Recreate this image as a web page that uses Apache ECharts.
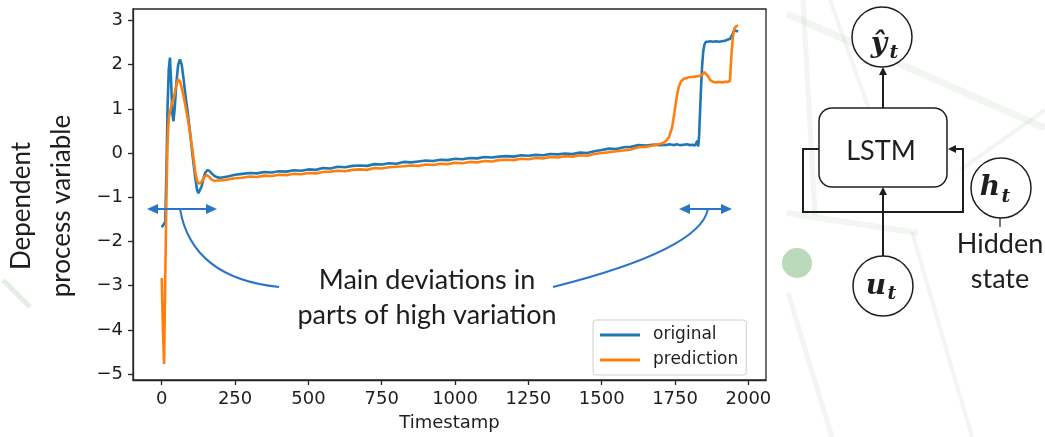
<!DOCTYPE html>
<html>
<head>
<meta charset="utf-8">
<title>LSTM prediction</title>
<script src="https://cdn.jsdelivr.net/npm/echarts@6/dist/echarts.min.js"></script>
<style>
html, body { margin: 0; padding: 0; background: #fff; }
#chart { width: 1045px; height: 437px; }
</style>
</head>
<body>
<div id="chart"></div>
<script>
// timestamps shared by both curves
var timestamps = [
  0, 4, 8, 12, 16, 20, 24, 28, 32, 36, 40, 44, 50, 56, 62, 68, 74, 80, 88, 96,
  105, 114, 120, 125, 130, 136, 142, 148, 155, 162, 170, 180, 190, 200,
  225, 250, 275, 300, 325, 350, 375, 400, 425, 450, 475, 500, 525, 550, 575, 600,
  625, 650, 675, 700, 725, 750, 775, 800, 825, 850, 875, 900, 925, 950, 975, 1000,
  1025, 1050, 1075, 1100, 1125, 1150, 1175, 1200, 1225, 1250, 1275, 1300, 1325, 1350,
  1375, 1400, 1425, 1450, 1475, 1500, 1525, 1550, 1575, 1600, 1625, 1650, 1675, 1700,
  1710, 1720, 1730, 1740, 1748, 1755, 1762, 1770, 1780, 1790, 1800, 1810, 1818, 1822,
  1826, 1829, 1832, 1835, 1838, 1842, 1846, 1850, 1855, 1862, 1870, 1880, 1890, 1900,
  1910, 1920, 1930, 1937, 1942, 1947, 1952, 1958, 1965
];

var original = [
  -1.68, -1.66, -1.60, -1.55, -0.40, 1.10, 1.90, 2.16, 1.60, 0.90, 0.72, 1.00, 1.60, 2.00, 2.12, 2.00, 1.70, 1.35, 0.95, 0.50,
  -0.05, -0.55, -0.82, -0.91, -0.88, -0.75, -0.58, -0.45, -0.39, -0.40, -0.46, -0.52, -0.55, -0.56,
  -0.53, -0.49, -0.47, -0.45, -0.46, -0.43, -0.44, -0.41, -0.42, -0.39, -0.40, -0.37, -0.38, -0.34, -0.35, -0.31,
  -0.32, -0.29, -0.28, -0.29, -0.25, -0.26, -0.23, -0.24, -0.20, -0.21, -0.19, -0.17, -0.18, -0.15, -0.16, -0.13,
  -0.14, -0.11, -0.12, -0.09, -0.10, -0.08, -0.07, -0.08, -0.05, -0.06, -0.04, -0.05, -0.02, -0.03,
  -0.01, -0.02, 0.01, 0.00, 0.04, 0.07, 0.10, 0.09, 0.13, 0.14, 0.18, 0.17, 0.19, 0.18,
  0.19, 0.18, 0.20, 0.19, 0.18, 0.20, 0.19, 0.18, 0.19, 0.20, 0.18, 0.19, 0.17, 0.20,
  0.28, 0.15, 0.40, 0.90, 1.40, 1.95, 2.30, 2.45, 2.52, 2.52, 2.53, 2.52, 2.53, 2.52,
  2.53, 2.54, 2.57, 2.58, 2.62, 2.70, 2.78, 2.80, 2.75
];

var prediction = [
  -2.83, -4.00, -4.77, -2.80, -1.00, 0.30, 0.80, 0.92, 1.05, 1.15, 1.22, 1.35, 1.55, 1.67, 1.62, 1.48, 1.30, 1.10, 0.80, 0.47,
  0.05, -0.42, -0.62, -0.69, -0.68, -0.65, -0.58, -0.52, -0.50, -0.54, -0.60, -0.63, -0.62, -0.62,
  -0.60, -0.57, -0.56, -0.53, -0.54, -0.51, -0.52, -0.49, -0.50, -0.47, -0.48, -0.45, -0.46, -0.43, -0.42, -0.40,
  -0.41, -0.38, -0.37, -0.38, -0.34, -0.35, -0.32, -0.31, -0.30, -0.28, -0.29, -0.26, -0.27, -0.24, -0.25, -0.22,
  -0.23, -0.20, -0.21, -0.18, -0.19, -0.16, -0.15, -0.16, -0.13, -0.14, -0.11, -0.12, -0.09, -0.10,
  -0.07, -0.08, -0.05, -0.06, -0.02, 0.00, 0.02, 0.04, 0.06, 0.08, 0.13, 0.14, 0.17, 0.21,
  0.23, 0.28, 0.37, 0.58, 0.92, 1.25, 1.48, 1.62, 1.68, 1.70, 1.72, 1.72, 1.73, 1.73,
  1.74, 1.74, 1.75, 1.75, 1.76, 1.77, 1.80, 1.83, 1.82, 1.74, 1.65, 1.61, 1.60, 1.61,
  1.60, 1.61, 1.61, 1.63, 2.20, 2.62, 2.82, 2.87, 2.88
];

var xTicks = [0, 250, 500, 750, 1000, 1250, 1500, 1750, 2000];
var yTicks = [-5, -4, -3, -2, -1, 0, 1, 2, 3];

var chart = echarts.init(document.getElementById('chart'));

var ink = '#1e1e1e';
var blueNote = '#2a74c7';
var calibri = 'Lato, "Open Sans", sans-serif';
var mathFont = '"DejaVu Serif", serif';
var deco = 'rgba(150, 185, 150, 0.13)';

function arrowHead(x, y, dir, color, len, half) {
  // small filled triangle, tip at (x, y)
  var pts;
  if (dir === 'left') pts = [[x, y], [x + len, y - half], [x + len, y + half]];
  else if (dir === 'right') pts = [[x, y], [x - len, y - half], [x - len, y + half]];
  else pts = [[x, y], [x - half, y + len], [x + half, y + len]];
  return { type: 'polygon', shape: { points: pts }, style: { fill: color }, z: 20 };
}

function mathText(x, y, s, size) {
  return { type: 'text', x: x, y: y, z: 11,
    style: { text: s, font: 'italic bold ' + size + 'px ' + mathFont, fill: ink,
             textAlign: 'center', textVerticalAlign: 'middle' } };
}

var graphics = [
  // faint slide background
  { type: 'line', shape: { x1: 787, y1: 14, x2: 1045, y2: 128 }, style: { stroke: deco, lineWidth: 7 }, z: -10 },
  { type: 'line', shape: { x1: 803, y1: 0, x2: 815, y2: 215 }, style: { stroke: deco, lineWidth: 5 }, z: -10 },
  { type: 'line', shape: { x1: 830, y1: 0, x2: 880, y2: 140 }, style: { stroke: deco, lineWidth: 4 }, z: -10 },
  { type: 'line', shape: { x1: 787, y1: 213, x2: 918, y2: 233 }, style: { stroke: deco, lineWidth: 6 }, z: -10 },
  { type: 'line', shape: { x1: 788, y1: 293, x2: 832, y2: 437 }, style: { stroke: deco, lineWidth: 5 }, z: -10 },
  { type: 'line', shape: { x1: 912, y1: 232, x2: 972, y2: 437 }, style: { stroke: deco, lineWidth: 4 }, z: -10 },
  { type: 'line', shape: { x1: 1045, y1: 110, x2: 960, y2: 170 }, style: { stroke: deco, lineWidth: 4 }, z: -10 },
  { type: 'circle', shape: { cx: 797, cy: 263, r: 15 }, style: { fill: 'rgba(120, 180, 120, 0.5)' }, z: -10 },
  { type: 'line', shape: { x1: 3, y1: 280, x2: 30, y2: 307 }, style: { stroke: 'rgba(140, 190, 140, 0.25)', lineWidth: 5 }, z: -10 },

  // y axis title
  { type: 'text', x: 42, y: 206, rotation: Math.PI / 2,
    style: { text: 'Dependent\nprocess variable', font: '26px ' + calibri, fill: ink,
             textAlign: 'center', textVerticalAlign: 'middle', lineHeight: 40 }, z: 10 },

  // annotation
  { type: 'text', x: 427, y: 298,
    style: { text: 'Main deviations in\nparts of high variation', font: '27px ' + calibri, fill: ink,
             textAlign: 'center', textVerticalAlign: 'middle', lineHeight: 35 }, z: 10 },
  { type: 'line', shape: { x1: 152, y1: 209, x2: 212, y2: 209 }, style: { stroke: blueNote, lineWidth: 2 }, z: 20 },
  arrowHead(147, 209, 'left', blueNote, 11, 5),
  arrowHead(217, 209, 'right', blueNote, 11, 5),
  { type: 'line', shape: { x1: 684, y1: 209, x2: 727, y2: 209 }, style: { stroke: blueNote, lineWidth: 2 }, z: 20 },
  arrowHead(679, 209, 'left', blueNote, 11, 5),
  arrowHead(732, 209, 'right', blueNote, 11, 5),
  { type: 'bezierCurve', shape: { x1: 180, y1: 209, cpx1: 192, cpy1: 278, x2: 279, y2: 287 },
    style: { stroke: blueNote, lineWidth: 2, fill: null }, z: 20 },
  { type: 'bezierCurve', shape: { x1: 553, y1: 287, cpx1: 700, cpy1: 250, x2: 708, y2: 209 },
    style: { stroke: blueNote, lineWidth: 2, fill: null }, z: 20 },

  // LSTM diagram
  { type: 'circle', shape: { cx: 882, cy: 37, r: 30 }, style: { fill: '#fff', stroke: ink, lineWidth: 1.5 }, z: 10 },
  { type: 'line', shape: { x1: 883, y1: 108, x2: 883, y2: 73 }, style: { stroke: ink, lineWidth: 2 }, z: 10 },
  arrowHead(883, 67, 'up', ink, 8, 4),
  { type: 'rect', shape: { x: 819, y: 108, width: 128, height: 79, r: 13 },
    style: { fill: '#fff', stroke: ink, lineWidth: 1.5 }, z: 10 },
  { type: 'text', x: 881, y: 151,
    style: { text: 'LSTM', font: '27px ' + calibri, fill: ink, textAlign: 'center', textVerticalAlign: 'middle' }, z: 11 },
  { type: 'polyline', shape: { points: [[819, 149], [803, 149], [803, 212], [963, 212], [963, 149], [954, 149]] },
    style: { stroke: ink, lineWidth: 2, fill: null }, z: 10 },
  arrowHead(948, 149, 'left', ink, 8, 4),
  { type: 'line', shape: { x1: 883, y1: 257, x2: 883, y2: 193 }, style: { stroke: ink, lineWidth: 2 }, z: 10 },
  arrowHead(883, 187, 'up', ink, 8, 4),
  { type: 'circle', shape: { cx: 883, cy: 286, r: 30 }, style: { fill: '#fff', stroke: ink, lineWidth: 1.5 }, z: 10 },
  { type: 'circle', shape: { cx: 1001, cy: 188, r: 30 }, style: { fill: '#fff', stroke: ink, lineWidth: 1.5 }, z: 10 },
  { type: 'line', shape: { x1: 1000, y1: 218, x2: 1000, y2: 227 }, style: { stroke: ink, lineWidth: 1.2 }, z: 10 },
  { type: 'text', x: 1000, y: 227,
    style: { text: 'Hidden\nstate', font: '27px ' + calibri, fill: ink, textAlign: 'center', textVerticalAlign: 'top', lineHeight: 35 },
    z: 10 },

  // math labels
  mathText(879, 45, '\u0177', 28),
  mathText(894, 53, 't', 19),
  mathText(876, 287, 'u', 28),
  mathText(892, 294, 't', 19),
  mathText(990, 188, 'h', 28),
  mathText(1006, 197, 't', 19)
];

function pairs(vals) {
  return timestamps.map(function (t, i) { return [t, vals[i]]; });
}

option = {
  animation: false,
  backgroundColor: '#fff',
  textStyle: { fontFamily: '"DejaVu Sans", sans-serif' },
  grid: {
    left: 133, top: 9, width: 633, height: 374,
    show: true, borderColor: '#262626', borderWidth: 1.3, backgroundColor: 'transparent'
  },
  legend: {
    data: ['original', 'prediction'],
    orient: 'vertical',
    left: 593, top: 320,
    padding: [5, 8, 5, 7],
    itemWidth: 40, itemHeight: 3, itemGap: 5,
    icon: 'rect',
    borderColor: '#d0d0d0', borderWidth: 1, borderRadius: 3,
    backgroundColor: 'rgba(255,255,255,0.85)',
    textStyle: { fontSize: 17, color: ink, fontFamily: '"DejaVu Sans", sans-serif', lineHeight: 20, padding: [0, 0, 0, 8] },
    itemStyle: { borderWidth: 0 }
  },
  xAxis: {
    type: 'value', min: -98, max: 2060,
    name: 'Timestamp', nameLocation: 'middle', nameGap: 34,
    nameTextStyle: { fontSize: 18, color: ink },
    axisLine: { show: true, onZero: false, lineStyle: { color: '#262626', width: 1.3 } },
    axisTick: { show: true, length: 5, customValues: xTicks, lineStyle: { color: '#262626', width: 1.3 } },
    axisLabel: { customValues: xTicks, fontSize: 18, color: ink, margin: 10,
      formatter: function (v) { return String(v); } },
    splitLine: { show: false }
  },
  yAxis: {
    type: 'value', min: -5.135, max: 3.26,
    axisLine: { show: true, onZero: false, lineStyle: { color: '#262626', width: 1.3 } },
    axisTick: { show: true, length: 5, customValues: yTicks, lineStyle: { color: '#262626', width: 1.3 } },
    axisLabel: {
      customValues: yTicks, fontSize: 18, color: ink, margin: 10,
      formatter: function (v) { return v < 0 ? '\u2212' + Math.abs(v) : String(v); }
    },
    splitLine: { show: false }
  },
  series: [
    {
      name: 'original', type: 'line', data: pairs(original),
      showSymbol: false, color: '#1f77b4',
      lineStyle: { width: 2.6, color: '#1f77b4' }, z: 3
    },
    {
      name: 'prediction', type: 'line', data: pairs(prediction),
      showSymbol: false, color: '#ff7f0e',
      lineStyle: { width: 2.6, color: '#ff7f0e' }, z: 4
    }
  ],
  graphic: graphics
};

chart.setOption(option);
</script>
</body>
</html>
